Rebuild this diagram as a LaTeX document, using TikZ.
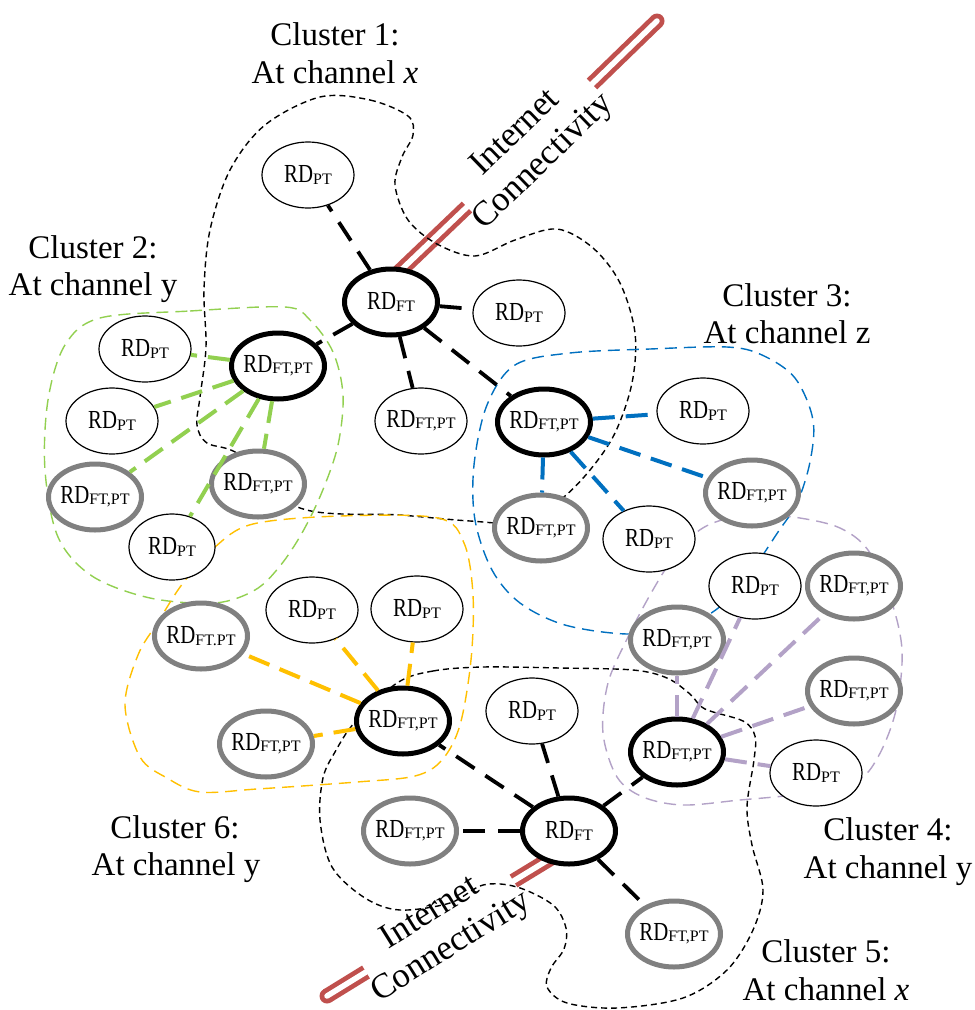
\documentclass[tikz,border=0pt]{standalone}
\usepackage{fontspec}
\setmainfont{Liberation Serif}
\newfontfamily\rdfont[FakeStretch=0.8]{Liberation Serif}
\usetikzlibrary{shapes.geometric,backgrounds}
\definecolor{cgreen}{HTML}{92D050}
\definecolor{cblue}{HTML}{0070C0}
\definecolor{cpurple}{HTML}{B3A2C7}
\definecolor{corange}{HTML}{FFC000}
\definecolor{cred}{HTML}{C0504D}
\definecolor{cgray}{HTML}{808080}
\newcommand\rdlab[1]{\makebox[0pt][c]{{\rdfont\fontsize{26}{26}\selectfont RD}\raisebox{-1.2pt}{\rmfamily\fontsize{16}{16}\selectfont #1}}}
\begin{document}
\begin{tikzpicture}[x=1pt,y=-1pt,
  pt/.style={ellipse, draw=black, line width=1.2pt, fill=white, minimum width=92pt, minimum height=66pt, inner sep=0pt},
  hd/.style={ellipse, draw=black, line width=5pt, fill=white, minimum width=93pt, minimum height=66pt, inner sep=0pt},
  gr/.style={hd, draw=cgray},
  bk/.style={draw=black, line width=1.4pt, dash pattern=on 6pt off 4pt},
  bgr/.style={draw=cgreen, line width=1.4pt, dash pattern=on 12pt off 7pt},
  bbl/.style={draw=cblue, line width=1.4pt, dash pattern=on 12pt off 7pt},
  bpu/.style={draw=cpurple, line width=1.4pt, dash pattern=on 12pt off 7pt},
  bor/.style={draw=corange, line width=1.4pt, dash pattern=on 12pt off 7pt},
  kl/.style={draw=black, line width=3.8pt, dash pattern=on 22pt off 13pt},
  gl/.style={draw=cgreen, line width=4pt, dash pattern=on 22pt off 11pt},
  bl/.style={draw=cblue, line width=4pt, dash pattern=on 22pt off 11pt},
  pl/.style={draw=cpurple, line width=4pt, dash pattern=on 22pt off 11pt},
  ol/.style={draw=corange, line width=4pt, dash pattern=on 22pt off 11pt},
  tubeo/.style={draw=cred, line width=15pt},
  tubei/.style={draw=white, line width=5.5pt, line cap=round},
  lab/.style={font=\fontsize{33}{38}\selectfont, inner sep=0pt, anchor=base},
  inet/.style={font=\fontsize{35}{40}\selectfont, inner sep=0pt, align=center}
]
\useasboundingbox (0,0) rectangle (975,1010);

% cluster boundaries
\draw[bk] plot[smooth cycle, tension=0.55] coordinates {(320,97) (370,100) (408,116) (413,135) (402,157) (395,185) (408,220) (437,244) (475,256) (515,240) (557,229) (593,248) (620,283) (635,333) (632,383) (615,433) (590,470) (560,500) (520,522) (470,521) (400,515) (300,508) (240,455) (207,443) (197,425) (200,397) (206,347) (204,290) (210,230) (230,170) (265,125)};
\draw[bgr] plot[smooth cycle, tension=0.55] coordinates {(100,318) (190,311) (285,307) (310,320) (333,352) (343,395) (338,445) (322,492) (302,533) (280,566) (255,590) (215,603) (150,598) (92,576) (58,537) (45,470) (48,400) (65,345)};
\draw[bbl] plot[smooth cycle, tension=0.55] coordinates {(515,365) (570,353) (650,349) (727,347) (762,355) (795,378) (813,420) (810,462) (797,503) (778,532) (758,562) (735,593) (708,615) (675,628) (627,634) (565,625) (520,603) (492,570) (475,520) (474,465) (487,405)};
\draw[bpu] plot[smooth cycle, tension=0.55] coordinates {(697,532) (722,520) (760,515) (800,518) (840,528) (868,550) (890,597) (902,650) (896,710) (878,757) (855,782) (800,794) (740,800) (683,805) (643,797) (617,777) (603,733) (608,683) (628,637) (650,595) (673,558)};
\draw[bor] plot[smooth cycle, tension=0.55] coordinates {(183,583) (215,547) (253,524) (340,516) (438,518) (464,543) (473,595) (471,660) (460,725) (442,760) (415,776) (357,782) (257,789) (200,792) (167,778) (140,757) (125,705) (138,655) (158,622)};
\draw[bk] plot[smooth cycle, tension=0.55] coordinates {(397,683) (433,671) (483,667) (560,668) (633,670) (667,678) (690,694) (705,709) (743,721) (755,736) (754,760) (747,807) (752,845) (763,890) (753,930) (727,970) (683,998) (617,1008) (567,1003) (547,987) (551,968) (564,949) (566,928) (553,905) (517,887) (483,885) (450,903) (400,910) (365,898) (332,867) (320,820) (323,778) (335,752) (355,722)};

% cluster 1
\node[pt] (c1pt) at (308,175) {\rdlab{PT}};
\node[hd] (h1) at (391,302) {\rdlab{FT}};
\node[pt] (c1pt2) at (519,313) {\rdlab{PT}};
\node[pt] (c1ftpt) at (421,421) {\rdlab{FT,PT}};
\node[hd] (head3) at (544,422) {\rdlab{FT,PT}};
\node[hd] (head2) at (278,366) {\rdlab{FT,PT}};
% cluster 2
\node[pt] (c2a) at (145,349) {\rdlab{PT}};
\node[pt] (c2b) at (112,421) {\rdlab{PT}};
\node[gr] (c2c) at (95,497) {\rdlab{FT,PT}};
\node[pt, minimum width=86pt] (c2d) at (172,547) {\rdlab{PT}};
\node[gr] (c2e) at (258,484) {\rdlab{FT,PT}};
% cluster 3
\node[pt] (c3a) at (703,411) {\rdlab{PT}};
\node[gr] (c3b) at (752,493) {\rdlab{FT,PT}};
\node[pt] (c3c) at (649,539) {\rdlab{PT}};
\node[gr] (c3d) at (541,528) {\rdlab{FT,PT}};
% cluster 4
\node[pt] (c4a) at (755,586) {\rdlab{PT}};
\node[gr] (c4b) at (854,586) {\rdlab{FT,PT}};
\node[gr] (c4c) at (677,640) {\rdlab{FT,PT}};
\node[gr] (c4d) at (854,691) {\rdlab{FT,PT}};
\node[hd] (head4) at (677,752) {\rdlab{FT,PT}};
\node[pt] (c4e) at (816,773) {\rdlab{PT}};
% cluster 6
\node[gr] (c6a) at (201,636) {\rdlab{FT.PT}};
\node[pt] (c6b) at (312,610) {\rdlab{PT}};
\node[pt] (c6c) at (417,609) {\rdlab{PT}};
\node[hd] (head6) at (403,721) {\rdlab{FT,PT}};
\node[gr] (c6d) at (266,744) {\rdlab{FT,PT}};
% cluster 5
\node[pt] (c5a) at (532,711) {\rdlab{PT}};
\node[hd] (h5) at (569,831) {\rdlab{FT}};
\node[gr] (c5b) at (410,831) {\rdlab{FT,PT}};
\node[gr] (c5c) at (674,934) {\rdlab{FT,PT}};

% connectors
\draw[kl] (h1) -- (c1pt);
\draw[kl] (h1) -- (c1pt2);
\draw[kl] (h1) -- (c1ftpt);
\draw[kl] (h1) -- (head3);
\draw[kl] (h1) -- (head2);
\draw[kl] (h5) -- (head6);
\draw[kl] (h5) -- (c5a);
\draw[kl] (h5) -- (head4);
\draw[kl] (h5) -- (c5b);
\draw[kl] (h5) -- (c5c);
\draw[gl] (head2) -- (c2a);
\draw[gl] (head2) -- (c2b);
\draw[gl] (head2) -- (c2c);
\draw[gl] (head2) -- (c2d);
\draw[gl] (head2) -- (c2e);
\draw[bl] (head3) -- (c3a);
\draw[bl] (head3) -- (c3b);
\draw[bl] (head3) -- (c3c);
\draw[bl] (head3) -- (c3d);
\draw[pl] (head4) -- (c4c);
\draw[pl] (head4) -- (c4a);
\draw[pl] (head4) -- (c4b);
\draw[pl] (head4) -- (c4d);
\draw[pl] (head4) -- (c4e);
\draw[ol] (head6) -- (c6a);
\draw[ol] (head6) -- (c6b);
\draw[ol] (head6) -- (c6c);
\draw[ol] (head6) -- (c6d);

% internet connectivity tubes
\coordinate (t1g1) at (467,207);
\coordinate (t1g2) at (592,84);
\coordinate (t1e) at (657,21);
\coordinate (t2g1) at (513.5,881);
\coordinate (t2g2) at (366,972);
\coordinate (t2e) at (327,996);
\begin{pgfonlayer}{background}
\fill[white] (0,0) rectangle (975,1010);
\draw[tubeo, shorten <=-8pt] (h1.70) -- (t1g1);
\draw[tubeo] (t1g2) -- (t1e);
\fill[cred] (t1e) circle (7.5pt);
\draw[tubei, shorten <=-8pt] (h1.70) -- (t1g1);
\draw[tubei] (t1g2) -- (t1e);
\draw[tubeo, shorten <=-8pt] (h5.232) -- (t2g1);
\draw[tubeo] (t2g2) -- (t2e);
\fill[cred] (t2e) circle (7.5pt);
\draw[tubei, shorten <=-8pt] (h5.232) -- (t2g1);
\draw[tubei] (t2g2) -- (t2e);
\end{pgfonlayer}
\node[inet, rotate=44] (inet1) at (530,148) {Internet\\Connectivity};
\node[inet, rotate=32] (inet2) at (441,931) {Internet\\Connectivity};

% cluster labels
\node[lab] (l1a) at (335,45) {Cluster 1:};
\node[lab] (l1b) at (335,83) {At channel \textit{x}};
\node[lab] (l2a) at (93,258) {Cluster 2:};
\node[lab] (l2b) at (93,295) {At channel y};
\node[lab] (l3a) at (787,306) {Cluster 3:};
\node[lab] (l3b) at (787,343) {At channel z};
\node[lab] (l4a) at (888,840) {Cluster 4:};
\node[lab] (l4b) at (888,878) {At channel y};
\node[lab] (l5a) at (826,962) {Cluster 5:};
\node[lab] (l5b) at (826,1000) {At channel \textit{x}};
\node[lab] (l6a) at (175,838) {Cluster 6:};
\node[lab] (l6b) at (176,875) {At channel y};
\end{tikzpicture}
\end{document}
